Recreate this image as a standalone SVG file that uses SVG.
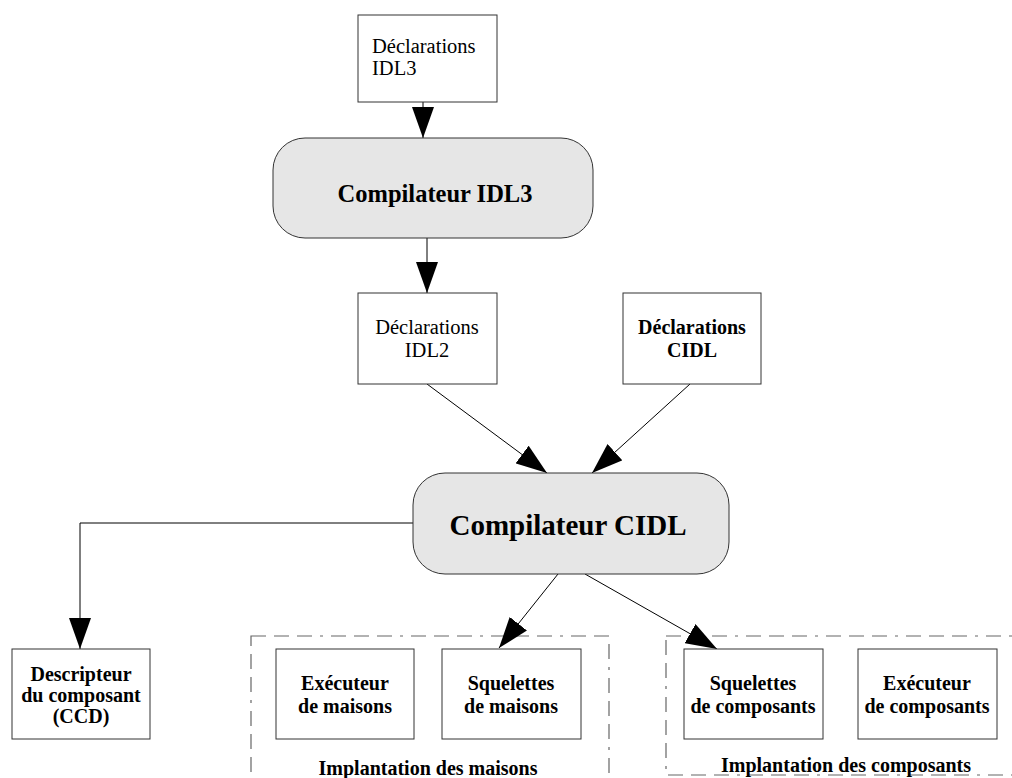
<svg xmlns="http://www.w3.org/2000/svg" width="1012" height="778" viewBox="0 0 1012 778">
<style>
.box{fill:#fff;stroke:#333;stroke-width:1}
.comp{fill:#e6e6e6;stroke:#333;stroke-width:1}
.grp{fill:none;stroke:#666;stroke-width:1.2;stroke-dasharray:15 8 15 8 15 8 3 8}
.reg{font-family:"Liberation Serif","Times New Roman",serif;font-size:20.5px;fill:#000}
.bold{font-family:"Liberation Serif","Times New Roman",serif;font-size:20px;font-weight:bold;fill:#000}
.big{font-family:"Liberation Serif","Times New Roman",serif;font-weight:bold;fill:#000}
.conn{fill:none;stroke:#000;stroke-width:1;marker-end:url(#ah)}
</style>
<defs>
<marker id="ah" markerUnits="userSpaceOnUse" markerWidth="32" markerHeight="22" refX="31" refY="11" orient="auto">
<path d="M0,0 L31,11 L0,22 Z" fill="#000"/>
</marker>
</defs>
<rect width="1012" height="778" fill="#fff"/>

<g id="groups">
<rect id="impl-maisons" class="grp" x="251" y="636" width="358" height="150"/>
<rect id="impl-composants" class="grp" x="666" y="636" width="362" height="139"/>
</g>

<g id="connectors">
<line class="conn" x1="423" y1="102" x2="423" y2="138"/>
<line class="conn" x1="427" y1="238" x2="427" y2="293"/>
<line class="conn" x1="427" y1="384" x2="547" y2="473"/>
<line class="conn" x1="690" y1="384" x2="592" y2="473"/>
<polyline class="conn" points="413,523 80,523 80,649"/>
<line class="conn" x1="558" y1="574" x2="499" y2="648"/>
<line class="conn" x1="585" y1="574" x2="717" y2="649"/>
</g>

<g id="decl-idl3">
<rect class="box" x="358" y="15" width="139" height="87"/>
<text class="reg" x="372" y="53">Déclarations</text>
<text class="reg" x="372" y="75">IDL3</text>
</g>

<g id="compilateur-idl3">
<rect class="comp" x="273" y="138" width="320" height="100" rx="32" ry="32"/>
<text class="big" x="435" y="202" font-size="24.5" text-anchor="middle">Compilateur IDL3</text>
</g>

<g id="decl-idl2">
<rect class="box" x="358" y="293" width="139" height="91"/>
<text class="reg" x="427" y="334" text-anchor="middle">Déclarations</text>
<text class="reg" x="427" y="357" text-anchor="middle">IDL2</text>
</g>

<g id="decl-cidl">
<rect class="box" x="623" y="293" width="138" height="91"/>
<text class="bold" x="692" y="334" text-anchor="middle">Déclarations</text>
<text class="bold" x="692" y="357" text-anchor="middle">CIDL</text>
</g>

<g id="compilateur-cidl">
<rect class="comp" x="413" y="473" width="316" height="101" rx="32" ry="32"/>
<text class="big" x="568" y="535" font-size="29" text-anchor="middle">Compilateur CIDL</text>
</g>

<g id="descripteur">
<rect class="box" x="12" y="649" width="138" height="90"/>
<text class="bold" x="81" y="681" text-anchor="middle">Descripteur</text>
<text class="bold" x="81" y="702" text-anchor="middle">du composant</text>
<text class="bold" x="81" y="723" text-anchor="middle">(CCD)</text>
</g>

<g id="executeur-maisons">
<rect class="box" x="276" y="649" width="138" height="90"/>
<text class="bold" x="345" y="690" text-anchor="middle">Exécuteur</text>
<text class="bold" x="345" y="713" text-anchor="middle">de maisons</text>
</g>

<g id="squelettes-maisons">
<rect class="box" x="442" y="649" width="139" height="90"/>
<text class="bold" x="511" y="690" text-anchor="middle">Squelettes</text>
<text class="bold" x="511" y="713" text-anchor="middle">de maisons</text>
</g>

<g id="squelettes-composants">
<rect class="box" x="684" y="649" width="139" height="90"/>
<text class="bold" x="753" y="690" text-anchor="middle">Squelettes</text>
<text class="bold" x="753" y="713" text-anchor="middle">de composants</text>
</g>

<g id="executeur-composants">
<rect class="box" x="858" y="649" width="139" height="90"/>
<text class="bold" x="927" y="690" text-anchor="middle">Exécuteur</text>
<text class="bold" x="927" y="713" text-anchor="middle">de composants</text>
</g>

<g id="labels">
<text class="bold" x="428" y="775" text-anchor="middle">Implantation des maisons</text>
<text class="bold" x="846" y="772" text-anchor="middle">Implantation des composants</text>
</g>
</svg>
